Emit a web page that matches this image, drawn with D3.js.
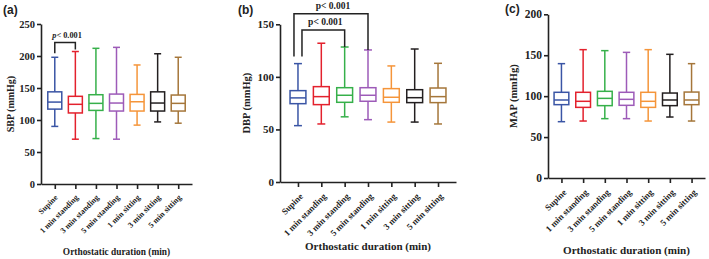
<!DOCTYPE html>
<html>
<head>
<meta charset="utf-8">
<script src="https://cdn.jsdelivr.net/npm/d3@7"></script>
<style>
  body { margin: 0; background: #fff; }
  text { font-family: 'Liberation Serif', 'Times New Roman', serif; font-weight: bold; fill: #222; }
  .tag { font-family: 'Liberation Sans', Arial, sans-serif; }
</style>
</head>
<body>
<svg class="chart" width="709" height="259"></svg>
<script>
let categories = ['Supine', '1 min standing', '3 min standing', '5 min standing', '1 min sitting', '3 min sitting', '5 min sitting'];
let colors = ['#3a55a5', '#e3212d', '#36b04a', '#9d5bb8', '#f5953a', '#231f20', '#a5763a'];

// SBP
let sbpMin    = [90, 70, 71, 70, 92, 97, 95];
let sbpQ1     = [117, 111, 115, 114, 114, 114, 114];
let sbpMedian = [128, 124.5, 126, 126.5, 128.5, 126.5, 126];
let sbpQ3     = [144, 137, 139.5, 140.5, 140, 144, 139];
let sbpMax    = [198, 207, 212, 213.5, 186, 203.5, 198];

// DBP
let dbpMin    = [53.6, 55.2, 62, 59.3, 57, 57, 55.2];
let dbpQ1     = [74.5, 73.6, 75.8, 76.8, 75.8, 75.5, 75.5];
let dbpMedian = [80, 81.2, 82.5, 82.5, 80.6, 80.2, 81.2];
let dbpQ3     = [86.9, 90.7, 89.7, 89.7, 88.8, 87.8, 89.4];
let dbpMax    = [112.6, 132, 128.4, 125.6, 110.4, 126.5, 112.9];

// MAP
let mapMin    = [68.8, 69.6, 72.5, 72.5, 69.6, 74.5, 69.6];
let mapQ1     = [89.6, 86.3, 88.4, 88.8, 86.3, 88.4, 89.6];
let mapMedian = [95.3, 93.7, 97.3, 96.1, 93.7, 95.3, 95.3];
let mapQ3     = [104.7, 104.7, 105.9, 104.7, 104.7, 103.8, 105];
let mapMax    = [139.7, 156.8, 155.6, 153.5, 156.8, 151.1, 139.7];

let sbpTicks = [0, 50, 100, 150, 200, 250];
let dbpTicks = [0, 50, 100, 150];
let mapTicks = [0, 50, 100, 150, 200];

// significance brackets: [from, to, height in data units, label]
let sbpSig = [['Supine', '1 min standing', 221, 'p< 0.001']];
let dbpSig = [['Supine', '5 min standing', 160, 'p< 0.001'], ['Supine', '3 min standing', 144.6, 'p< 0.001']];

var chart = d3.select('.chart');

let panels = [
  { tag: '(a)', tagX: 3, tagY: 14, ylab: 'SBP (mmHg)', ylabX: 14, min: sbpMin, q1: sbpQ1, med: sbpMedian, q3: sbpQ3, max: sbpMax,
    ticks: sbpTicks, left: 41, right: 192, top: 24, bottom: 184, pad: 0.67, tickFont: 10.5, catFont: 8, titleFont: 9.4, ylabFont: 10,
    titleY: 255, labShift: [3, 14], sig: sbpSig, sigFont: 8.3, italicP: true },
  { tag: '(b)', tagX: 238, tagY: 14, ylab: 'DBP (mmHg)', ylabX: 250, min: dbpMin, q1: dbpQ1, med: dbpMedian, q3: dbpQ3, max: dbpMax,
    ticks: dbpTicks, left: 280, right: 456, top: 24.3, bottom: 182, pad: 0.77, tickFont: 11, catFont: 8.8, titleFont: 11, ylabFont: 10.5,
    titleY: 250, labShift: [5, 15], sig: dbpSig, sigFont: 9.5, italicP: false },
  { tag: '(c)', tagX: 505, tagY: 13, ylab: 'MAP (mmHg)', ylabX: 517, min: mapMin, q1: mapQ1, med: mapMedian, q3: mapQ3, max: mapMax,
    ticks: mapTicks, left: 548, right: 705, top: 14.3, bottom: 178, pad: 0.62, tickFont: 11.5, catFont: 8.8, titleFont: 11.1, ylabFont: 10.5,
    titleY: 254, labShift: [5, 15], sig: [], sigFont: 9, italicP: false }
];

panels.forEach(function(p) {
  let x = d3.scalePoint()
      .domain(categories)
      .range([p.left, p.right])
      .padding(p.pad);

  let y = d3.scaleLinear()
      .domain([0, d3.max(p.ticks)])
      .range([p.bottom, p.top]);

  let g = chart.append('g');

  // y axis
  let yAxis = g.append('g')
      .attr('transform', 'translate(' + p.left + ',0)')
      .call(d3.axisLeft(y).tickValues(p.ticks).tickSize(4).tickSizeOuter(0).tickPadding(2));
  yAxis.selectAll('text').style('font-size', p.tickFont + 'px');

  // x axis
  let xAxis = g.append('g')
      .attr('transform', 'translate(0,' + p.bottom + ')')
      .call(d3.axisBottom(x).tickSize(5).tickSizeOuter(0));
  xAxis.selectAll('text')
      .style('font-size', p.catFont + 'px')
      .attr('text-anchor', 'end')
      .attr('transform', 'translate(' + p.labShift[0] + ',' + p.labShift[1] + ') rotate(-45)')
      .attr('dy', 0)
      .attr('y', 0);

  g.selectAll('.domain, .tick line')
      .attr('stroke', '#222')
      .attr('stroke-width', 1.6);

  let step = x.step();
  let bw = step * 0.68;
  let cw = step * 0.34;

  let box = g.selectAll('.box')
      .data(categories)
    .enter().append('g')
      .attr('class', 'box')
      .attr('stroke', (d, i) => colors[i])
      .attr('stroke-width', 1.5)
      .attr('fill', 'none');

  box.append('line')
      .attr('x1', d => x(d)).attr('x2', d => x(d))
      .attr('y1', (d, i) => y(p.max[i]))
      .attr('y2', (d, i) => y(p.q3[i]));
  box.append('line')
      .attr('x1', d => x(d)).attr('x2', d => x(d))
      .attr('y1', (d, i) => y(p.q1[i]))
      .attr('y2', (d, i) => y(p.min[i]));
  box.append('line')
      .attr('x1', d => x(d) - cw / 2).attr('x2', d => x(d) + cw / 2)
      .attr('y1', (d, i) => y(p.max[i]))
      .attr('y2', (d, i) => y(p.max[i]));
  box.append('line')
      .attr('x1', d => x(d) - cw / 2).attr('x2', d => x(d) + cw / 2)
      .attr('y1', (d, i) => y(p.min[i]))
      .attr('y2', (d, i) => y(p.min[i]));
  box.append('rect')
      .attr('x', d => x(d) - bw / 2)
      .attr('width', bw)
      .attr('y', (d, i) => y(p.q3[i]))
      .attr('height', (d, i) => y(p.q1[i]) - y(p.q3[i]));
  box.append('line')
      .attr('x1', d => x(d) - bw / 2).attr('x2', d => x(d) + bw / 2)
      .attr('y1', (d, i) => y(p.med[i]))
      .attr('y2', (d, i) => y(p.med[i]));

  // brackets
  p.sig.forEach(function(s, k) {
    let i0 = categories.indexOf(s[0]), i1 = categories.indexOf(s[1]);
    let off = p.sig.length > 1 ? (k == 0 ? -4 : 4) : 0;
    let xa = x(s[0]) + off, xb = x(s[1]);
    let yt = y(s[2]);
    g.append('path')
        .attr('d', 'M' + xa + ',' + (y(p.max[i0]) - (p.sig.length > 1 ? 7 : 4)) + 'V' + yt + 'H' + xb + 'V' + (y(p.max[i1]) - (p.sig.length > 1 ? 0 : 2)))
        .attr('fill', 'none')
        .attr('stroke', '#222')
        .attr('stroke-width', 1.5);
    let t = g.append('text')
        .attr('x', (xa + xb) / 2 + 2)
        .attr('y', yt - 5)
        .attr('text-anchor', 'middle')
        .style('font-size', p.sigFont + 'px');
    t.append('tspan').style('font-style', p.italicP ? 'italic' : 'normal').text(s[3].slice(0, 1));
    t.append('tspan').text(s[3].slice(1));
  });

  // labels
  g.append('text')
      .attr('class', 'tag')
      .attr('x', p.tagX)
      .attr('y', p.tagY)
      .style('font-size', '12px')
      .text(p.tag);

  g.append('text')
      .attr('transform', 'translate(' + p.ylabX + ',' + (p.top + p.bottom) / 2 + ') rotate(-90)')
      .attr('text-anchor', 'middle')
      .style('font-size', p.ylabFont + 'px')
      .text(p.ylab);

  g.append('text')
      .attr('x', (p.left + p.right) / 2)
      .attr('y', p.titleY)
      .attr('text-anchor', 'middle')
      .style('font-size', p.titleFont + 'px')
      .text('Orthostatic duration (min)');
});
</script>
</body>
</html>
